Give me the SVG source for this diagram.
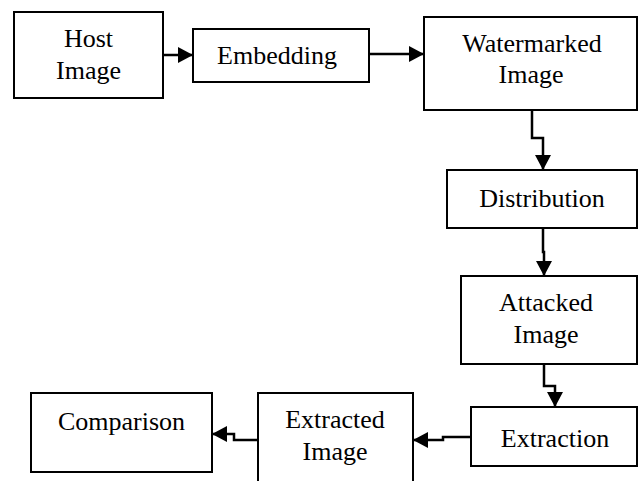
<svg xmlns="http://www.w3.org/2000/svg" width="638" height="481" viewBox="0 0 638 481">
  <style>
    .box { fill: #ffffff; stroke: #000000; stroke-width: 2; }
    .label { font-family: "Liberation Serif", "Times New Roman", serif; font-size: 26px; fill: #000000; text-anchor: middle; }
    .wire { fill: none; stroke: #000000; stroke-width: 2.5; marker-end: url(#head); }
  </style>
  <defs>
    <marker id="head" markerUnits="userSpaceOnUse" markerWidth="16" markerHeight="16" refX="15" refY="8" orient="auto">
      <polygon points="0,0 15,8 0,16" fill="#000000"/>
    </marker>
  </defs>

  <!-- processing stages -->
  <g id="host">
    <rect class="box" x="14" y="12" width="149" height="86"/>
    <text class="label" x="88.5" y="47">Host</text>
    <text class="label" x="88.5" y="79">Image</text>
  </g>
  <g id="embedding">
    <rect class="box" x="193" y="29" width="176" height="53"/>
    <text class="label" x="277" y="64">Embedding</text>
  </g>
  <g id="watermarked">
    <rect class="box" x="424" y="17" width="213" height="93"/>
    <text class="label" x="532" y="52">Watermarked</text>
    <text class="label" x="531" y="83">Image</text>
  </g>
  <g id="distribution">
    <rect class="box" x="447" y="170" width="190" height="58"/>
    <text class="label" x="542" y="207">Distribution</text>
  </g>
  <g id="attacked">
    <rect class="box" x="461" y="276" width="176" height="88"/>
    <text class="label" x="546" y="311">Attacked</text>
    <text class="label" x="546" y="343">Image</text>
  </g>
  <g id="extraction">
    <rect class="box" x="471" y="407" width="166" height="59"/>
    <text class="label" x="555" y="447">Extraction</text>
  </g>
  <g id="extracted">
    <rect class="box" x="258" y="393" width="155" height="90"/>
    <text class="label" x="335" y="428">Extracted</text>
    <text class="label" x="335" y="460">Image</text>
  </g>
  <g id="comparison">
    <rect class="box" x="31" y="393" width="181" height="79"/>
    <text class="label" x="121.5" y="430">Comparison</text>
  </g>

  <!-- connectors -->
  <g id="connectors">
    <path class="wire" d="M163,55 H193"/>
    <path class="wire" d="M369,54 H424"/>
    <path class="wire" d="M532,110 V138 H543 V170"/>
    <path class="wire" d="M543,228 V252 H544 V276"/>
    <path class="wire" d="M544,364 V386 H555 V407"/>
    <path class="wire" d="M471,437 H443 V440 H413"/>
    <path class="wire" d="M258,440 H234 V434 H212"/>
  </g>
</svg>
